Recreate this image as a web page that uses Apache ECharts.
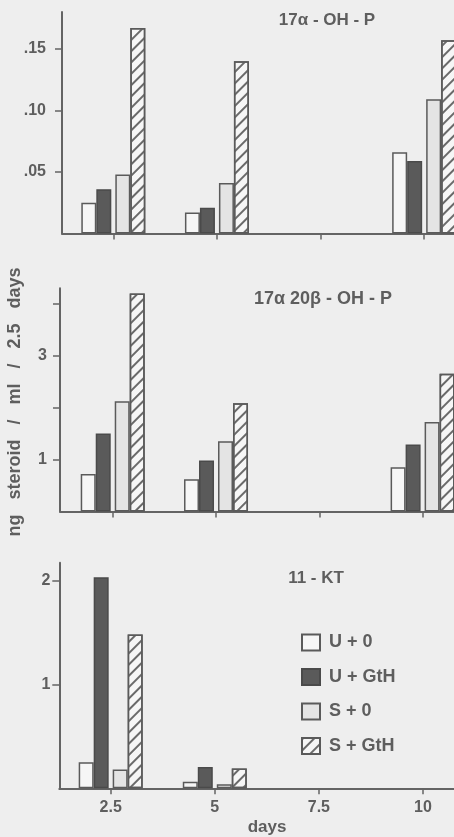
<!DOCTYPE html>
<html>
<head>
<meta charset="utf-8">
<script src="https://cdn.jsdelivr.net/npm/echarts@6/dist/echarts.min.js"></script>
<style>
  html, body { margin: 0; padding: 0; background: #eeeeee; }
  #chart { width: 454px; height: 837px; }
</style>
</head>
<body>
<div id="chart"></div>
<script>
// ---- data ----
const days = [2.5, 5, 7.5, 10];
const dayLabels = ['2.5', '5', '7.5', '10'];
const seriesNames = ['U + 0', 'U + GtH', 'S + 0', 'S + GtH'];
const panelTitles = ['17α - OH - P', '17α 20β - OH - P', '11 - KT'];

// 17α-OH-P
const ohp_U0 = [0.025, 0.017, null, 0.066];
const ohp_UG = [0.036, 0.021, null, 0.059];
const ohp_S0 = [0.048, 0.041, null, 0.109];
const ohp_SG = [0.167, 0.140, null, 0.157];
// 17α20β-OH-P
const dhp_U0 = [0.72, 0.62, null, 0.85];
const dhp_UG = [1.50, 0.98, null, 1.29];
const dhp_S0 = [2.12, 1.35, null, 1.72];
const dhp_SG = [4.19, 2.08, null, 2.65];
// 11-KT
const kt_U0 = [0.25, 0.064, null, null];
const kt_UG = [2.03, 0.205, null, null];
const kt_S0 = [0.18, 0.04, null, null];
const kt_SG = [1.48, 0.19, null, null];

// tick values
const ohpTicks = [0.05, 0.10, 0.15];
const ohpTickLabels = ['.05', '.10', '.15'];
const dhpTicks = [1, 2, 3, 4];
const dhpLabelTicks = [1, 3];
const ktTicks = [1, 2];

const yAxisTitle = 'ng   steroid   /   ml   /   2.5   days';
const xAxisTitle = 'days';

// ---- styling ----
const ink = '#5e5e5e';
const axisInk = '#646464';
const fontFam = '"Liberation Sans", Arial, Helvetica, sans-serif';

const styles = [
  { color: '#f6f6f6', borderColor: '#5a5a5a', borderWidth: 1.5 },
  { color: '#5a5a5a', borderColor: '#4a4a4a', borderWidth: 1.5 },
  { color: '#e4e4e4', borderColor: '#5a5a5a', borderWidth: 1.5 },
  { color: '#f6f6f6', borderColor: '#5a5a5a', borderWidth: 1.5,
    decal: { symbol: 'rect', symbolSize: 1, dashArrayX: [1, 0], dashArrayY: [1.6, 5.6],
             rotation: -Math.PI / 4, color: '#6a6a6a' } }
];

const panels = [
  { data: [ohp_U0, ohp_UG, ohp_S0, ohp_SG], top: 12, height: 221.5, left: 62, min: 1.262, max: 10.72, ymax: 0.18,
    ticks: ohpTicks, labelTicks: ohpTicks, fmt: v => ohpTickLabels[ohpTicks.findIndex(t => Math.abs(t - v) < 1e-9)], labelMargin: 16 },
  { data: [dhp_U0, dhp_UG, dhp_S0, dhp_SG], top: 288.3, height: 223.2, left: 60, min: 1.224, max: 10.76, ymax: 4.29,
    ticks: dhpTicks, labelTicks: dhpLabelTicks, fmt: v => String(v), labelMargin: 13 },
  { data: [kt_U0, kt_UG, kt_S0, kt_SG], top: 562.7, height: 225.6, left: 59.3, min: 1.266, max: 10.745, ymax: 2.17,
    ticks: ktTicks, labelTicks: ktTicks, fmt: v => String(v), labelMargin: 9 }
];

const grids = [], xAxes = [], yAxes = [], series = [];
panels.forEach((p, i) => {
  grids.push({ left: p.left, right: 0, top: p.top, height: p.height });
  const isLast = i === panels.length - 1;
  xAxes.push({
    type: 'value', gridIndex: i, min: p.min, max: p.max,
    splitLine: { show: false },
    axisLine: { show: true, lineStyle: { color: axisInk, width: 2 } },
    axisTick: { show: true, customValues: days, length: 6, lineStyle: { color: axisInk, width: 1.5 } },
    axisLabel: { show: isLast, customValues: days, margin: 11,
      formatter: v => dayLabels[days.indexOf(v)],
      color: ink, fontSize: 16, fontWeight: 'bold', fontFamily: fontFam }
  });
  yAxes.push({
    type: 'value', gridIndex: i, min: 0, max: p.ymax,
    splitLine: { show: false },
    axisLine: { show: true, lineStyle: { color: axisInk, width: 2 } },
    axisTick: { show: true, customValues: p.ticks, length: 7, lineStyle: { color: axisInk, width: 1.5 } },
    axisLabel: { show: true, customValues: p.labelTicks, formatter: p.fmt, margin: p.labelMargin,
      color: ink, fontSize: 16, fontWeight: 'bold', fontFamily: fontFam }
  });
  p.data.forEach((vals, k) => {
    const pts = [];
    vals.forEach((v, j) => { if (v != null) pts.push([days[j], v]); });
    series.push({
      name: seriesNames[k], type: 'bar', xAxisIndex: i, yAxisIndex: i,
      barWidth: 15, barGap: '0%', data: pts, itemStyle: styles[k], silent: true,
      animation: false
    });
    if (k === 1) {
      // invisible spacer between the U and S pairs
      series.push({
        name: '_gap' + i, type: 'bar', xAxisIndex: i, yAxisIndex: i,
        barWidth: 4, barGap: '0%', data: days.map(d => [d, 0]),
        itemStyle: { color: 'rgba(0,0,0,0)', borderWidth: 0 }, silent: true, animation: false
      });
    }
  });
});

const titlePos = [[327, 20], [323, 299], [316, 578]];
const titleSize = [17, 18, 17];
const graphic = panelTitles.map((t, i) => ({
  type: 'text', x: titlePos[i][0], y: titlePos[i][1],
  style: { text: t, fill: ink, font: 'bold ' + titleSize[i] + 'px ' + fontFam, textAlign: 'center', textVerticalAlign: 'middle' }
}));
graphic.push({
  type: 'text', x: 15, y: 402, rotation: Math.PI / 2,
  style: { text: yAxisTitle, fill: ink, font: 'bold 18px ' + fontFam, textAlign: 'center', textVerticalAlign: 'middle' }
});
graphic.push({
  type: 'text', x: 267, y: 827,
  style: { text: xAxisTitle, fill: ink, font: 'bold 17px ' + fontFam, textAlign: 'center', textVerticalAlign: 'middle' }
});

const chart = echarts.init(document.getElementById('chart'), null, { renderer: 'canvas' });
chart.setOption({
  backgroundColor: '#eeeeee',
  animation: false,
  grid: grids, xAxis: xAxes, yAxis: yAxes, series: series,
  legend: {
    data: seriesNames.map(n => ({ name: n, icon: 'rect' })), orient: 'vertical', left: 301, top: 633.5, padding: 0,
    itemWidth: 18, itemHeight: 16, itemGap: 16.5,
    textStyle: { color: ink, fontSize: 18, fontWeight: 'bold', fontFamily: fontFam, lineHeight: 16, padding: [0, 0, 0, 4] },
    selectedMode: false
  },
  graphic: graphic
});
</script>
</body>
</html>
